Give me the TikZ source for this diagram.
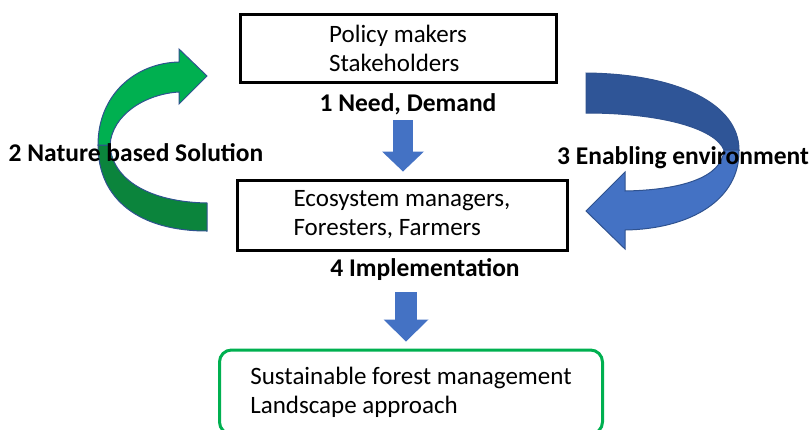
\documentclass[tikz,border=0pt]{standalone}
\usepackage{fontspec}
\setmainfont{Carlito}
\usetikzlibrary{arrows.meta}
\definecolor{Leaf}{HTML}{00B050}
\definecolor{LeafDark}{HTML}{0B843C}
\definecolor{Sky}{HTML}{4472C4}
\definecolor{SkyDark}{HTML}{2F5597}
\definecolor{Rim}{HTML}{2F528F}
\tikzset{
 box/.style={draw=black,line width=3pt,align=left,font=\fontsize{25}{29}\selectfont,inner sep=0pt},
 goal/.style={box,draw=Leaf,line width=3pt,rounded corners=12pt},
 lbl/.style={font=\fontsize{25.5}{28}\selectfont\bfseries,inner sep=0pt},
 fat/.style={draw=Sky,line width=20pt,-{Triangle[width=42pt,length=20pt,line width=0pt]}},
 rib/.style={draw=Rim,line width=1pt}
}
\begin{document}
\begin{tikzpicture}[x=1pt,y=-1pt]
\useasboundingbox (0,0) rectangle (811,429);
\clip (0,0) rectangle (811,429);
\filldraw[rib,fill=LeafDark] (98,145) .. controls (98,200) and (140,231) .. (207,231) -- (207,203) .. controls (150,202) and (112,180) .. (110,145) -- cycle;
\filldraw[rib,fill=Leaf] (98,145) .. controls (98,95) and (135,63) .. (179,62) -- (179,49) -- (207,76) -- (179,104) -- (179,92) .. controls (145,94) and (112,115) .. (110,145) -- cycle;
\filldraw[rib,fill=SkyDark] (586,73) .. controls (680,74) and (739,105) .. (739,150) -- (724,150) .. controls (715,128) and (660,113) .. (586,113) -- cycle;
\filldraw[rib,fill=Sky] (739,150) .. controls (740,200) and (690,229) .. (625,230) -- (625,249) -- (586,211) -- (625,172) -- (625,191) .. controls (680,190) and (722,178) .. (724,150) -- cycle;
\node[box,minimum width=316pt,minimum height=68pt] (policy) at (398,48) {Policy makers\\Stakeholders};
\node[box,minimum width=330pt,minimum height=70pt] (mgr) at (402,215) {Ecosystem managers,\\Foresters, Farmers};
\node[goal,minimum width=383pt,minimum height=84pt] (land) at (411,392) {Sustainable forest management\\Landscape approach};
\node[lbl] (need) at (408,104) {1 Need, Demand};
\node[lbl] (nbs) at (136,153) {2 Nature based Solution};
\node[lbl] (enable) at (683,158) {3 Enabling environment};
\node[lbl] (impl) at (425,270) {4 Implementation};
\coordinate (d1) at (403,120);
\coordinate (d4) at (406,292);
\draw[fat,shorten >=7pt] (d1) -- (d1 |- mgr.north);
\draw[fat,line width=22pt,-{Triangle[width=45pt,length=22pt,line width=0pt]},shorten >=7pt] (d4) -- (d4 |- land.north);
\end{tikzpicture}
\end{document}
